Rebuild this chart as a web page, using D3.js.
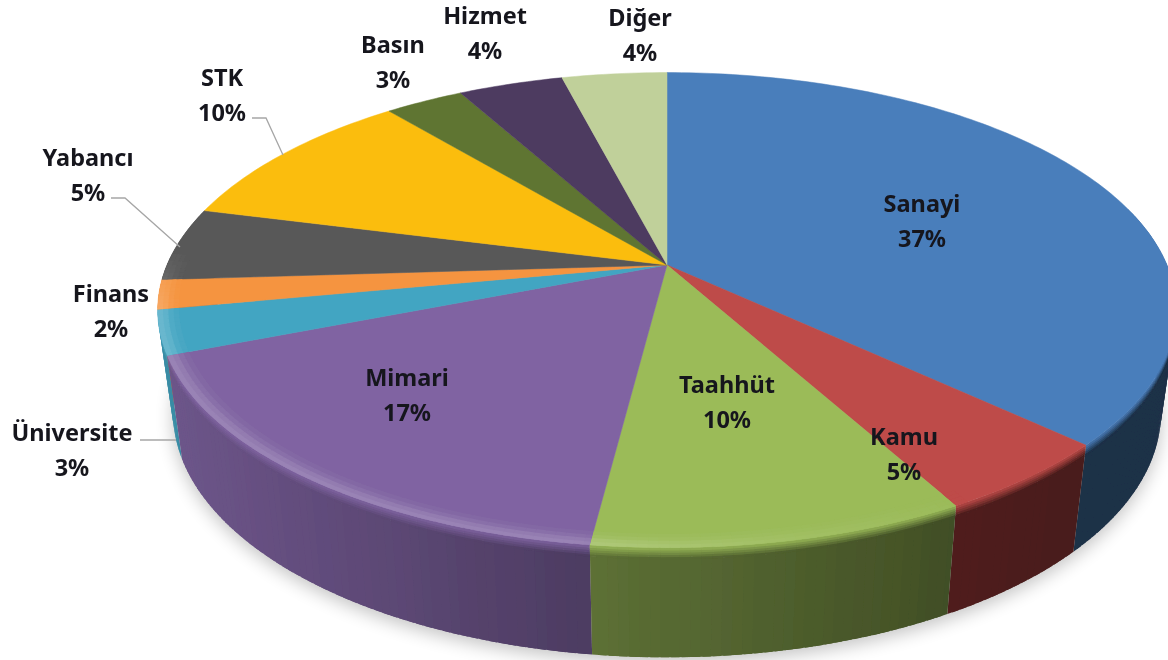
<!DOCTYPE html>
<html>
<head>
<meta charset="utf-8">
<script src="https://cdn.jsdelivr.net/npm/d3@7"></script>
<style>html,body{margin:0;padding:0;background:#fff;overflow:hidden}svg{display:block}</style>
</head>
<body>
<div id="chart"></div>
<script>
const categories = ["Sanayi","Kamu","Taahhüt","Mimari","Üniversite","Finans","Yabancı","STK","Basın","Hizmet","Diğer"];
const values = [37,5,10,17,3,2,5,10,3,4,4];
const colors = ["#4a7ebb","#be4b48","#9bbb59","#8064a2","#43a5c2","#f59440","#595959","#fbbd10","#5f7530","#4d3a60","#c0d09a"];
const labelX = [922,904,727,407,72,111,88,222,393,485,640];
const labelY = [204,437,385,378,433,294,158,78,45,16,18];
const leaders = [
  [[252,118],[266,118],[283,155]],
  [[111,198],[125,198],[180,247]],
  [[140,440],[176,440]]
];

const W=1168,H=660;
const svg=d3.select("#chart").append("svg").attr("width",W).attr("height",H);
const defs=svg.append("defs");
defs.append("filter").attr("id","shadow").attr("x","-10%").attr("y","-10%").attr("width","120%").attr("height","120%")
  .append("feGaussianBlur").attr("stdDeviation",9);
defs.append("filter").attr("id","soft").attr("x","-2%").attr("y","-2%").attr("width","104%").attr("height","104%")
  .append("feGaussianBlur").attr("stdDeviation",0.7);
defs.append("filter").attr("id","softText").attr("x","-2%").attr("y","-2%").attr("width","104%").attr("height","104%")
  .append("feGaussianBlur").attr("stdDeviation",0.4);

const K=0.19;
const topX=d3.scaleLinear().domain([-1,1]).range([167,1167]);
const topY=d3.scaleLinear().domain([-1,1]).range([36,494]);
const botX=d3.scaleLinear().domain([-1,1]).range([182,1152]);
const botY=d3.scaleLinear().domain([-1,1]).range([130,602]);
function uvw(a,r){const u=r*Math.sin(a),v=-r*Math.cos(a);const w=1-K*v;return [u/w,v/w,v];}
const ptTop=(a,r=1)=>{const p=uvw(a,r);return [topX(p[0]),topY(p[1])];};
const ptBot=(a,r=1)=>{const p=uvw(a,r);return [botX(p[0]),botY(p[1])];};
const ptWall=(a,t)=>{const p=ptTop(a),q=ptBot(a);return [p[0]+(q[0]-p[0])*t,p[1]+(q[1]-p[1])*t];};

const wallShade=d3.scaleLinear().domain([-500,-77,288,418]).range([.85,.6,.42,.38]).clamp(true);
const hiShade=d3.scaleLinear().domain([-500,-100,100,300]).range([.2,.2,.08,0]).clamp(true);
function wallColor(c,a){
  const m=wallShade(ptTop(a)[0]-667),k=d3.rgb(c);
  return d3.rgb(k.r*m,k.g*m,k.b*m).formatHex();
}
const line=d3.line();
const pie=d3.pie().sort(null).value(d=>d)(values);
const STEP=Math.PI/180;
function samples(s){
  const n=Math.ceil((s.endAngle-s.startAngle)/STEP);
  return d3.range(n+1).map(i=>s.startAngle+(s.endAngle-s.startAngle)*i/n);
}

const chart=svg.append("g").attr("filter","url(#soft)");

// shadow
const ring=d3.range(0,2*Math.PI,STEP).map(a=>ptBot(a));
chart.append("path").attr("d",line(ring)+"Z").attr("transform","translate(0,5)")
  .attr("fill","#000").attr("opacity",.24).attr("filter","url(#shadow)");

// walls (painter order, back to front); quads overlap inside a slice so no seams show
const tLevels=[0,.02,.04,.06,.08,.1,1];
const quads=[];
pie.forEach((s,i)=>{
  const as=samples(s);
  for(let j=0;j<as.length-1;j++){
    const a0=as[j],a1=as[j+1],mid=(a0+a1)/2;
    if(-Math.cos(mid)<-0.25) continue;
    quads.push({a0:Math.max(s.startAngle,a0-STEP*.4),a1:Math.min(s.endAngle,a1+STEP*.4),mid,i});
  }
});
quads.sort((p,q)=>(-Math.cos(p.mid))-(-Math.cos(q.mid)));
const walls=chart.append("g");
quads.forEach(q=>{
  const top=colors[q.i],bot=wallColor(colors[q.i],q.mid);
  for(let l=tLevels.length-2;l>=0;l--){
    const t0=tLevels[l],t1=Math.min(1,tLevels[l+1]+.006);
    const col=d3.interpolateRgb(top,bot)(Math.min(1,tLevels[l+1]/.1));
    walls.append("path")
      .attr("d",line([ptWall(q.a0,t0),ptWall(q.a1,t0),ptWall(q.a1,t1),ptWall(q.a0,t1)])+"Z")
      .attr("fill",col);
  }
});

// top surface
const apex=[topX(0),topY(0)];
chart.append("g").selectAll("path").data(pie).join("path")
  .attr("d",s=>line([apex,...samples(s).map(a=>ptTop(a))])+"Z")
  .attr("fill",(s,i)=>colors[i]).attr("stroke",(s,i)=>colors[i]).attr("stroke-width",.5);

// bevel highlight near the rim
const bands=[[.96,.972,.12],[.97,.982,.35],[.98,.992,.75],[.99,1,1]];
const bevel=chart.append("g");
pie.forEach((s,i)=>{
  const as=samples(s);
  for(let j=0;j<as.length-1;j++){
    const a0=as[j],a1=as[j+1],mid=(a0+a1)/2,v=-Math.cos(mid);
    const h=hiShade(ptTop(mid)[0]-667)*Math.max(0,Math.min(1,(v+.05)/.25));
    if(h<=0) continue;
    const b0=Math.max(s.startAngle,a0-STEP*.4),b1=Math.min(s.endAngle,a1+STEP*.4);
    bands.forEach(b=>{
      const col=d3.interpolateRgb(colors[i],"#ffffff")(h*b[2]);
      bevel.append("path")
        .attr("d",line([ptTop(b0,b[0]),ptTop(b1,b[0]),ptTop(b1,b[1]),ptTop(b0,b[1])])+"Z")
        .attr("fill",col);
    });
  }
});

// leader lines
chart.append("g").selectAll("path").data(leaders).join("path")
  .attr("d",d=>line(d)).attr("fill","none").attr("stroke","#a6a6a6").attr("stroke-width",1.3);

// labels
const labels=svg.append("g").attr("font-family","'Noto Sans',sans-serif").attr("font-weight",700)
  .attr("font-size",23.5).attr("fill","#14141e").attr("text-anchor","middle").attr("filter","url(#softText)");
categories.forEach((c,i)=>{
  labels.append("text").attr("x",labelX[i]).attr("y",labelY[i]+8).text(c);
  labels.append("text").attr("x",labelX[i]).attr("y",labelY[i]+43).text(values[i]+"%");
});
</script>
</body>
</html>
